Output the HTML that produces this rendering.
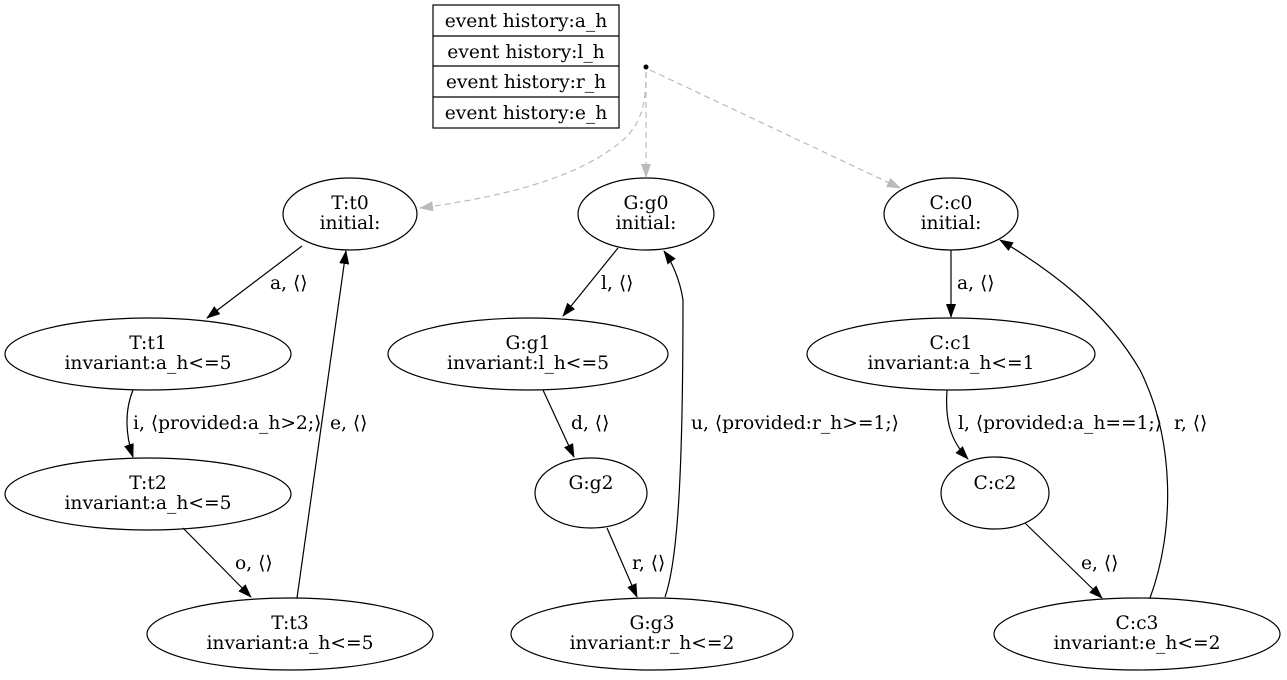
<!DOCTYPE html>
<html><head><meta charset="utf-8"><style>
html,body{margin:0;padding:0;background:#fff;}
svg text{font-family:"DejaVu Serif","Liberation Serif",serif;font-size:18.67px;fill:#000;}
</style></head><body>
<svg width="1287" height="675" viewBox="0 0 1287 675" xmlns="http://www.w3.org/2000/svg">
<defs>
<marker id="a" markerWidth="14" markerHeight="10" refX="13" refY="5" orient="auto" markerUnits="userSpaceOnUse"><path d="M0,0 L14,5 L0,10 z" fill="#000"/></marker>
<marker id="g" markerWidth="14" markerHeight="10" refX="13" refY="5" orient="auto" markerUnits="userSpaceOnUse"><path d="M0,0 L14,5 L0,10 z" fill="#bbb"/></marker>
</defs>
<g fill="none" stroke="#000" stroke-width="1.2">
<rect x="433" y="5" width="186" height="123"/>
<line x1="433" y1="36" x2="619" y2="36"/><line x1="433" y1="66" x2="619" y2="66"/><line x1="433" y1="97" x2="619" y2="97"/>
<ellipse cx="350" cy="214" rx="67" ry="36"/>
<ellipse cx="646" cy="214" rx="68" ry="36"/>
<ellipse cx="951" cy="214" rx="67" ry="36"/>
<ellipse cx="148" cy="354" rx="143" ry="36"/>
<ellipse cx="528" cy="354" rx="140" ry="36"/>
<ellipse cx="951" cy="354" rx="144" ry="36"/>
<ellipse cx="148" cy="494" rx="143" ry="36"/>
<ellipse cx="591" cy="493" rx="56" ry="35"/>
<ellipse cx="995" cy="493" rx="54" ry="36"/>
<ellipse cx="290" cy="634" rx="143" ry="36"/>
<ellipse cx="652" cy="634" rx="141" ry="36"/>
<ellipse cx="1137" cy="634" rx="143" ry="36"/>
</g>
<circle cx="646" cy="67" r="2.5" fill="#000"/>
<g fill="none" stroke="#bbb" stroke-dasharray="6,4" stroke-width="1.2">
<path d="M646,72 C646,110 640,130 610,150 C560,185 480,200 420,208" marker-end="url(#g)"/>
<path d="M646,72 L646,177" marker-end="url(#g)"/>
<path d="M650,70 L900,188" marker-end="url(#g)"/>
</g>
<g fill="none" stroke="#000" stroke-width="1.2">
<path d="M302,246 L207,318" marker-end="url(#a)"/>
<path d="M133,390 C124,412 126,436 133,457" marker-end="url(#a)"/>
<path d="M297,598 L346,251" marker-end="url(#a)"/>
<path d="M183,528 L251,597" marker-end="url(#a)"/>
<path d="M618,248 L563,316" marker-end="url(#a)"/>
<path d="M543,390 L574,457" marker-end="url(#a)"/>
<path d="M607,528 L637,597" marker-end="url(#a)"/>
<path d="M665,597 C678,560 683,470 683,300 C680,280 672,262 664,251" marker-end="url(#a)"/>
<path d="M951,250 L951,317" marker-end="url(#a)"/>
<path d="M947,390 C945,420 950,440 968,459" marker-end="url(#a)"/>
<path d="M1025,523 L1102,598" marker-end="url(#a)"/>
<path d="M1150,598 C1175,530 1175,440 1140,370 C1105,310 1050,270 1000,240" marker-end="url(#a)"/>
</g>
<g text-anchor="middle">
<text x="526" y="27">event history:a_h</text>
<text x="526" y="58">event history:l_h</text>
<text x="526" y="88">event history:r_h</text>
<text x="526" y="119">event history:e_h</text>
<text x="350" y="209">T:t0</text><text x="350" y="229">initial:</text>
<text x="646" y="209">G:g0</text><text x="646" y="229">initial:</text>
<text x="951" y="209">C:c0</text><text x="951" y="229">initial:</text>
<text x="148" y="349">T:t1</text><text x="148" y="369">invariant:a_h&lt;=5</text>
<text x="528" y="349">G:g1</text><text x="528" y="369">invariant:l_h&lt;=5</text>
<text x="951" y="349">C:c1</text><text x="951" y="369">invariant:a_h&lt;=1</text>
<text x="148" y="489">T:t2</text><text x="148" y="509">invariant:a_h&lt;=5</text>
<text x="591" y="489">G:g2</text>
<text x="995" y="489">C:c2</text>
<text x="290" y="629">T:t3</text><text x="290" y="649">invariant:a_h&lt;=5</text>
<text x="652" y="629">G:g3</text><text x="652" y="649">invariant:r_h&lt;=2</text>
<text x="1137" y="629">C:c3</text><text x="1137" y="649">invariant:e_h&lt;=2</text>
</g>
<g>
<text x="270" y="289">a, ⟨⟩</text>
<text x="133" y="429">i, ⟨provided:a_h&gt;2;⟩</text>
<text x="330" y="429">e, ⟨⟩</text>
<text x="235" y="569">o, ⟨⟩</text>
<text x="601" y="289">l, ⟨⟩</text>
<text x="571" y="429">d, ⟨⟩</text>
<text x="632" y="569">r, ⟨⟩</text>
<text x="691" y="429">u, ⟨provided:r_h&gt;=1;⟩</text>
<text x="957" y="289">a, ⟨⟩</text>
<text x="958" y="429">l, ⟨provided:a_h==1;⟩</text>
<text x="1174" y="429">r, ⟨⟩</text>
<text x="1081" y="569">e, ⟨⟩</text>
</g>
</svg>
</body></html>
